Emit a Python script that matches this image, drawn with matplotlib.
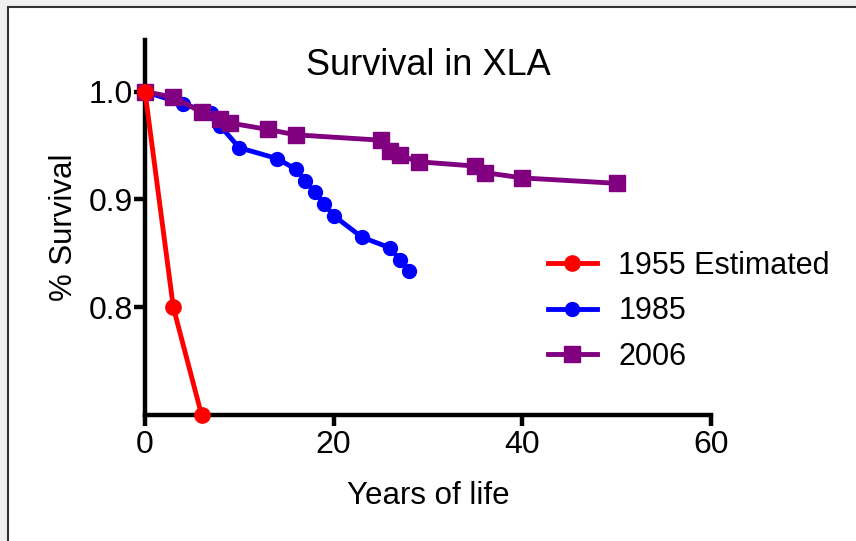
import matplotlib
matplotlib.use("Agg")
import matplotlib.pyplot as plt
from matplotlib.patches import Rectangle

plt.rcParams['font.family'] = ['Liberation Sans', 'DejaVu Sans']

# data
aar_1955 = [0, 3, 6]
overlev_1955 = [1.0, 0.80, 0.70]

aar_1985 = [0, 4, 7, 8, 10, 14, 16, 17, 18, 19, 20, 23, 26, 27, 28]
overlev_1985 = [1.0, 0.989, 0.980, 0.968, 0.948, 0.938, 0.928, 0.917, 0.907,
                0.896, 0.885, 0.865, 0.855, 0.844, 0.834]

aar_2006 = [0, 3, 6, 8, 9, 13, 16, 25, 26, 27, 29, 35, 36, 40, 50]
overlev_2006 = [1.0, 0.995, 0.981, 0.975, 0.971, 0.965, 0.960, 0.955, 0.945,
                0.941, 0.935, 0.931, 0.925, 0.920, 0.915]

x_ticks = [0, 20, 40, 60]
y_ticks = [0.8, 0.9, 1.0]

fig = plt.figure(figsize=(8.56, 5.41), dpi=100)
fig.patch.set_facecolor("#f0f0f0")
# hvitt panel med mork ramme
fig.patches.append(Rectangle((8/856, -0.05), 1.1, 1 - 7/541 + 0.05, transform=fig.transFigure,
                             facecolor="white", edgecolor="#333333", linewidth=1.5, zorder=-5))

ax = fig.add_axes([145/856, 1 - 415/541, (711 - 145)/856, (415 - 40)/541])
ax.patch.set_visible(False)

ax.plot(aar_1985, overlev_1985, color="blue", lw=3.5, marker="o", ms=10, label="1985",
        clip_on=False, zorder=3)
ax.plot(aar_2006, overlev_2006, color="purple", lw=3.5, marker="s", ms=12, label="2006",
        clip_on=False, zorder=4)
ax.plot(aar_1955, overlev_1955, color="red", lw=3.5, marker="o", ms=11, label="1955 Estimated",
        clip_on=False, zorder=5)

ax.set_xlim(0, 60)
ax.set_ylim(0.70, 1.048)
ax.set_xticks(x_ticks)
ax.set_yticks(y_ticks)
ax.set_yticklabels(["0.8", "0.9", "1.0"])

for side in ["top", "right"]:
    ax.spines[side].set_visible(False)
for side in ["left", "bottom"]:
    ax.spines[side].set_linewidth(3.2)
ax.tick_params(direction="out", length=8, width=3.2, labelsize=23)
ax.tick_params(axis="y", pad=1)
ax.tick_params(axis="x", pad=3)

ax.set_xlabel("Years of life", fontsize=22.5, labelpad=15)
ax.set_ylabel("% Survival", fontsize=22.5, labelpad=7)
ax.text(0.5, 0.932, "Survival in XLA", transform=ax.transAxes, ha="center", va="center",
        fontsize=26)

handles, labels = ax.get_legend_handles_labels()
order = [2, 0, 1]
ax.legend([handles[i] for i in order], [labels[i] for i in order], frameon=False,
          loc="upper left", bbox_to_anchor=(0.712, 0.437), fontsize=22,
          handlelength=1.6, handletextpad=0.7, labelspacing=0.5,
          borderpad=0, borderaxespad=0)

fig.savefig("out.png", dpi=100, facecolor=fig.get_facecolor())
